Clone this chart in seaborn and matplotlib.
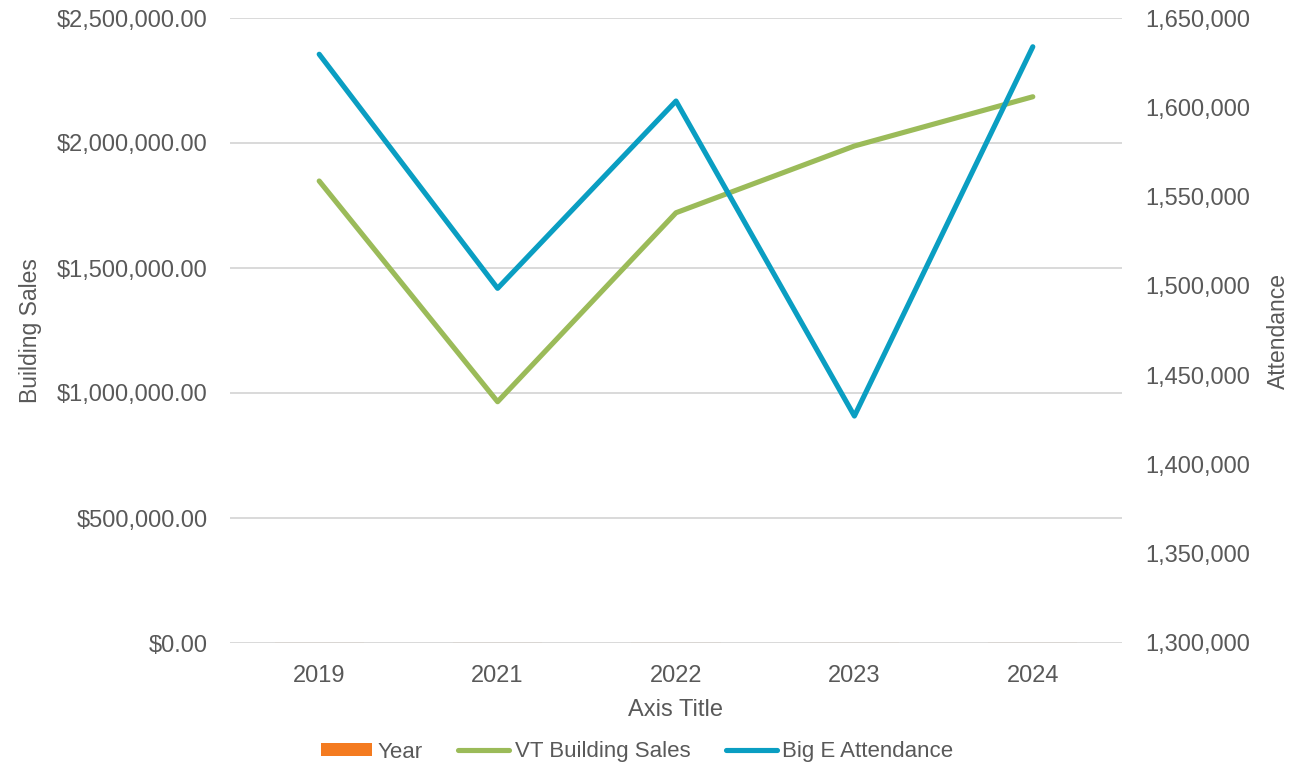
import matplotlib
matplotlib.use("Agg")
import matplotlib.pyplot as plt
import seaborn as sns
import pandas as pd
from matplotlib.ticker import FuncFormatter, MultipleLocator
from matplotlib.lines import Line2D
from matplotlib.patches import Patch

# ---- data ----
years = ["2019", "2021", "2022", "2023", "2024"]
year_values = [2019, 2021, 2022, 2023, 2024]
building_sales = [1848000, 965000, 1721000, 1988000, 2185000]
attendance = [1629700, 1498600, 1603500, 1427100, 1633900]

ORANGE = "#F47B20"
GREEN = "#9BBB59"
BLUE = "#0A9EC2"
TXT = "#595959"
GRID = "#D9D9D9"

sns.set_theme(style="white")
plt.rcParams['font.family'] = ['Liberation Sans', 'DejaVu Sans']

df = pd.DataFrame({
    "pos": list(range(len(years))),
    "Year": year_values,
    "Sales": building_sales,
    "Attendance": attendance,
})

W, H = 1315, 768
fig = plt.figure(figsize=(W / 100, H / 100), dpi=100)
ax = fig.add_axes([230 / W, 1 - 643 / H, (1122 - 230) / W, (643 - 18) / H])

sns.barplot(data=df, x="pos", y="Year", color=ORANGE, ax=ax, width=0.5,
            saturation=1, linewidth=0, edgecolor="none", zorder=1)
sns.lineplot(data=df, x="pos", y="Sales", color=GREEN, lw=3.7, ax=ax,
             solid_capstyle="round", sort=False, zorder=3)
ax2 = ax.twinx()
sns.lineplot(data=df, x="pos", y="Attendance", color=BLUE, lw=3.7, ax=ax2,
             solid_capstyle="round", sort=False)

ax.set_xlim(-0.5, len(years) - 0.5)
ax.set_ylim(0, 2500000)
ax2.set_ylim(1300000, 1650000)
ax.yaxis.set_major_locator(MultipleLocator(500000))
ax2.yaxis.set_major_locator(MultipleLocator(50000))
ax.yaxis.set_major_formatter(FuncFormatter(lambda v, p: f"${v:,.2f}"))
ax2.yaxis.set_major_formatter(FuncFormatter(lambda v, p: f"{v:,.0f}"))
ax.set_xticks(range(len(years)))
ax.set_xticklabels(years)

ax.set_axisbelow(False)
ax.grid(axis="y", color=GRID, lw=1.4)
ax.grid(axis="x", visible=False)
ax2.grid(False)
for a in (ax, ax2):
    for s in a.spines.values():
        s.set_visible(False)
    a.tick_params(length=0, labelsize=17, labelcolor=TXT)
ax.tick_params(axis="y", pad=16)
ax2.tick_params(axis="y", pad=16.5)
ax.tick_params(axis="x", pad=16)

ax.set_xlabel("Axis Title", fontsize=17, color=TXT)
ax.xaxis.set_label_coords(0.5, -0.107)
ax.xaxis.label.set_va("center")
ax.set_ylabel("Building Sales", fontsize=16.5, color=TXT)
ax.yaxis.set_label_coords(-0.224, 0.5)
ax.yaxis.label.set_va("center")
ax2.set_ylabel("Attendance", fontsize=16.5, color=TXT, rotation=90)
ax2.yaxis.set_label_coords(1.175, 0.5)
ax2.yaxis.label.set_va("center")

handles = [
    Patch(facecolor=ORANGE, edgecolor="none"),
    Line2D([0], [0], color=GREEN, lw=3.7, solid_capstyle="round"),
    Line2D([0], [0], color=BLUE, lw=3.7, solid_capstyle="round"),
]
labels = ["Year", "VT Building Sales", "Big E Attendance"]
leg = fig.legend(handles, labels, loc="center", bbox_to_anchor=(637 / W, 1 - 752 / H),
                 ncol=3, frameon=False, fontsize=16, handlelength=2.3,
                 handleheight=0.5, handletextpad=0.25, columnspacing=1.6)
for t in leg.get_texts():
    t.set_color(TXT)

fig.savefig("out.png", dpi=100)
